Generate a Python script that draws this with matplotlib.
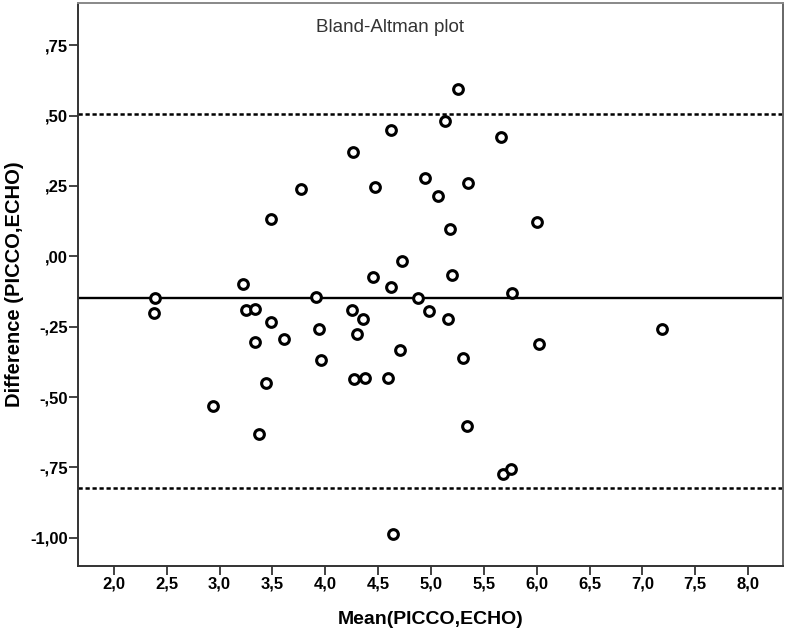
import numpy as np
import matplotlib
matplotlib.use("Agg")
import matplotlib.pyplot as plt

# Bland-Altman plot, PICCO vs ECHO

# mean of the two methods (x) and their difference (y)
mean_vals = [2.39, 2.38, 2.94, 3.22, 3.25, 3.33, 3.33, 3.37, 3.44, 3.49,
             3.49, 3.61, 3.77, 3.91, 3.94, 3.96, 4.26, 4.25, 4.30, 4.36,
             4.27, 4.38, 4.45, 4.47, 4.59, 4.62, 4.62, 4.64, 4.71, 4.73,
             4.88, 4.94, 4.98, 5.07, 5.13, 5.16, 5.18, 5.20, 5.26, 5.30,
             5.34, 5.35, 5.66, 5.68, 5.76, 5.77, 6.00, 6.02, 7.19]
diff_vals = [-0.148, -0.202, -0.530, -0.098, -0.190, -0.188, -0.305, -0.632, -0.449, 0.134,
             -0.232, -0.295, 0.240, -0.144, -0.259, -0.370, 0.370, -0.191, -0.277, -0.224,
             -0.436, -0.432, -0.073, 0.248, -0.432, 0.447, -0.110, -0.988, -0.331, -0.018,
             -0.147, 0.278, -0.195, 0.216, 0.482, -0.222, 0.096, -0.068, 0.595, -0.360,
             -0.603, 0.260, 0.423, -0.773, -0.756, -0.132, 0.123, -0.313, -0.259]

# mean difference and limits of agreement
mean_diff = -0.148
upper_loa = 0.505
lower_loa = -0.822

x_ticks = [2.0, 2.5, 3.0, 3.5, 4.0, 4.5, 5.0, 5.5, 6.0, 6.5, 7.0, 7.5, 8.0]
x_tick_labels = ['2,0', '2,5', '3,0', '3,5', '4,0', '4,5', '5,0', '5,5', '6,0', '6,5', '7,0', '7,5', '8,0']
y_ticks = [0.75, 0.50, 0.25, 0.0, -0.25, -0.50, -0.75, -1.00]
y_tick_labels = [',75', ',50', ',25', ',00', '-,25', '-,50', '-,75', '-1,00']

plt.rcParams['font.family'] = ['Liberation Sans', 'DejaVu Sans']

fig = plt.figure(figsize=(7.87, 6.30), dpi=100)
ax = fig.add_axes([0.0991, 0.1016, 0.8958, 0.8937])

ax.axhline(y=upper_loa, color='black', lw=1.8, ls=(0, (1.7, 1.1)), zorder=2)
ax.axhline(y=lower_loa, color='black', lw=1.8, ls=(0, (1.7, 1.1)), zorder=2)
ax.axhline(y=mean_diff, color='black', lw=1.7, zorder=2)

ax.plot(mean_vals, diff_vals, marker='o', linestyle='', ms=7.0, mew=2.2,
        mec='black', mfc='white', zorder=3)

ax.set_xlim(1.66, 8.33)
ax.set_ylim(-1.10, 0.90)

ax.set_xticks(x_ticks)
ax.set_xticklabels(x_tick_labels, fontsize=12, fontweight='bold')
ax.set_yticks(y_ticks)
ax.set_yticklabels(y_tick_labels, fontsize=12, fontweight='bold')
ax.tick_params(axis='both', direction='out', length=6.5, width=1.2, color='#222222', pad=1)

for side in ['left', 'bottom', 'right', 'top']:
	ax.spines[side].set_linewidth(1.4)
	ax.spines[side].set_color('#333333')
ax.spines['top'].set_color('#888888')
ax.spines['right'].set_color('#666666')

ax.set_xlabel('Mean(PICCO,ECHO)', fontsize=14, fontweight='bold', labelpad=14)
ax.set_ylabel('Difference (PICCO,ECHO)', fontsize=14.5, fontweight='bold', labelpad=4)

ax.text(0.443, 0.957, 'Bland-Altman plot', transform=ax.transAxes, ha='center', va='center',
        fontsize=13.5, color='#333333')

fig.savefig("out.png", dpi=100)
